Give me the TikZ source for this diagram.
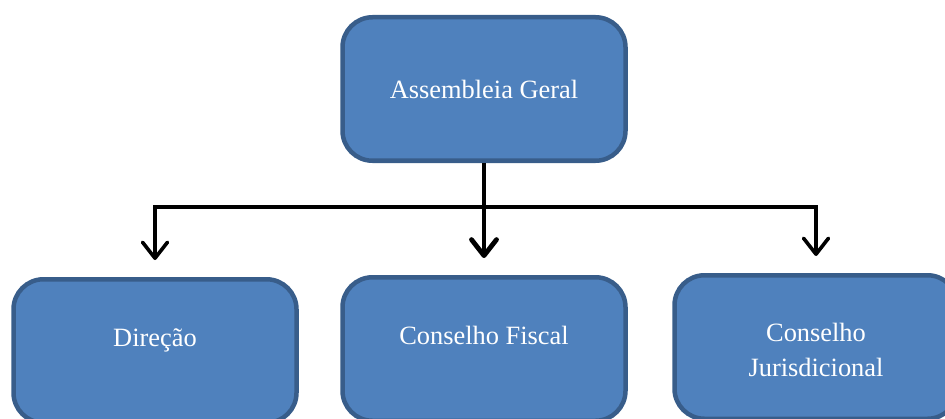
\documentclass[tikz,border=0pt]{standalone}
\usepackage{fontspec}
\setmainfont{Liberation Serif}
\usepackage{xcolor}
\usetikzlibrary{shapes,arrows.meta,positioning}
\definecolor{boxfill}{RGB}{79,129,189}
\definecolor{boxline}{RGB}{56,93,138}
\begin{document}
\begin{tikzpicture}[node distance=130pt, auto]
    \tikzstyle{orgbox} = [rectangle, rounded corners=15pt, draw=boxline, line width=2.25pt, fill=boxfill, text=white, minimum width=141.5pt, minimum height=71.75pt, align=center, font=\fontsize{13.2pt}{17.5pt}\selectfont]
    \tikzstyle{uptext} = [text height=9pt, text depth=13.5pt]
    \tikzstyle{arrow} = [line width=1.8pt, -{Straight Barb[length=8pt,width=12.5pt,round]}, shorten >=8.5pt]
    \useasboundingbox (0,0) rectangle (472.5pt,209pt);

    % Top level
    \node [orgbox] (assembleia) at (242pt,164.5pt) {Assembleia Geral};

    % Organs
    \node [orgbox, uptext, below of=assembleia] (fiscal) {Conselho Fiscal};
    \node [orgbox, uptext, left of=fiscal, xshift=-34.5pt, yshift=-1pt] (direcao) {Direção};
    \node [orgbox, right of=fiscal, xshift=36pt, yshift=1pt, text height=29.5pt, text depth=0pt] (juris) {Conselho\\Jurisdicional};

    % Branching point
    \coordinate (split) at (242pt,105.5pt);

    % Arrows
    \draw [arrow, line width=2.4pt] (assembleia.south) -- (fiscal.north);
    \draw [arrow] (split) -| (direcao.north);
    \draw [arrow] (split) -| (juris.north);
\end{tikzpicture}
\end{document}
